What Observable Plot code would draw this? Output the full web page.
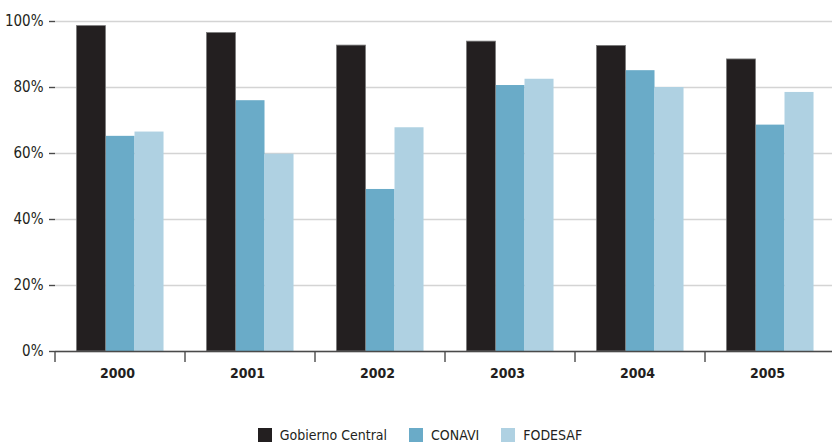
<!DOCTYPE html>
<html><head><meta charset="utf-8">
<script src="https://cdn.jsdelivr.net/npm/d3@7"></script>
<script src="https://cdn.jsdelivr.net/npm/@observablehq/plot@0.6"></script>
<style>
body{margin:0;background:#fff;font-family:"Liberation Sans Narrow","DejaVu Sans Condensed",sans-serif;}
#chart svg{display:block;}
#legend{width:832px;display:flex;justify-content:center;padding-left:30px;box-sizing:border-box;}
</style></head><body><div id="chart"></div><div id="legend"></div><script>
const years = ["2000", "2001", "2002", "2003", "2004", "2005"];
const series = ["Gobierno Central", "CONAVI", "FODESAF"];
const colors = ["#231f20", "#6aabc8", "#afd1e2"];
const gobierno = [0.986, 0.965, 0.927, 0.939, 0.926, 0.885];
const conavi   = [0.652, 0.760, 0.491, 0.806, 0.851, 0.686];
const fodesaf  = [0.665, 0.598, 0.678, 0.825, 0.800, 0.785];
const yTicks = [0, 0.2, 0.4, 0.6, 0.8, 1];

const values = [gobierno, conavi, fodesaf];
const data = series.flatMap((s, i) => years.map((y, j) => ({year: y, serie: s, value: values[i][j]})));
const font = '"Liberation Sans Narrow","DejaVu Sans Condensed",sans-serif';

const plot = Plot.plot({
  width: 832, height: 410,
  marginLeft: 55, marginRight: -3, marginTop: 21, marginBottom: 59,
  style: {fontFamily: font, fontSize: "15px", color: "#231f20", background: "#fff", overflow: "visible"},
  fx: {domain: years, padding: 0, round: false, label: null},
  x: {domain: series, paddingInner: 0, paddingOuter: 0.74, round: false, axis: null},
  y: {domain: [0, 1], label: null},
  color: {domain: series, range: colors},
  marks: [
    Plot.gridY(yTicks, {stroke: "#d4d4d4", strokeOpacity: 1, strokeWidth: 1.4}),
    Plot.barY(data, {fx: "year", x: "serie", y: "value", fill: "serie"}),
    Plot.barY(data.filter(d => d.serie === series[0]), {fx: "year", x: "serie", y: "value", fill: "none", stroke: "#7a7a7a", strokeWidth: 0.8}),
    Plot.ruleY([0], {stroke: "#4a4a4a", strokeWidth: 1.4}),
    Plot.axisY({ticks: yTicks, tickFormat: d3.format(".0%"), tickSize: 6, tickPadding: 6, label: null, stroke: "#4a4a4a", strokeWidth: 1.4, fill: "#231f20", fontSize: 15}),
    Plot.axisFx({anchor: "bottom", tickSize: 0, tickPadding: 17, label: null, fontWeight: "bold", fontSize: 14, dx: -3, fill: "#231f20"})
  ]
});
document.getElementById("chart").append(plot);

// boundary ticks between year groups, placed with the fx scale
const fx = plot.scale("fx");
const y = plot.scale("y");
const y0 = y.apply(0);
d3.select(plot).append("g").attr("stroke", "#4a4a4a").attr("stroke-width", 1.4)
  .selectAll("line").data(years).join("line")
  .attr("x1", d => fx.apply(d)).attr("x2", d => fx.apply(d))
  .attr("y1", y0).attr("y2", y0 + 11);

const legend = plot.legend("color", {swatchSize: 14, style: {fontFamily: font, fontSize: "14px", color: "#231f20", marginTop: "8px"}});
document.getElementById("legend").append(legend);
d3.select(legend).selectAll("span").style("margin-right", "22px");
d3.select(legend).selectAll("span > svg").style("margin-right", "8px");
</script></body></html>
